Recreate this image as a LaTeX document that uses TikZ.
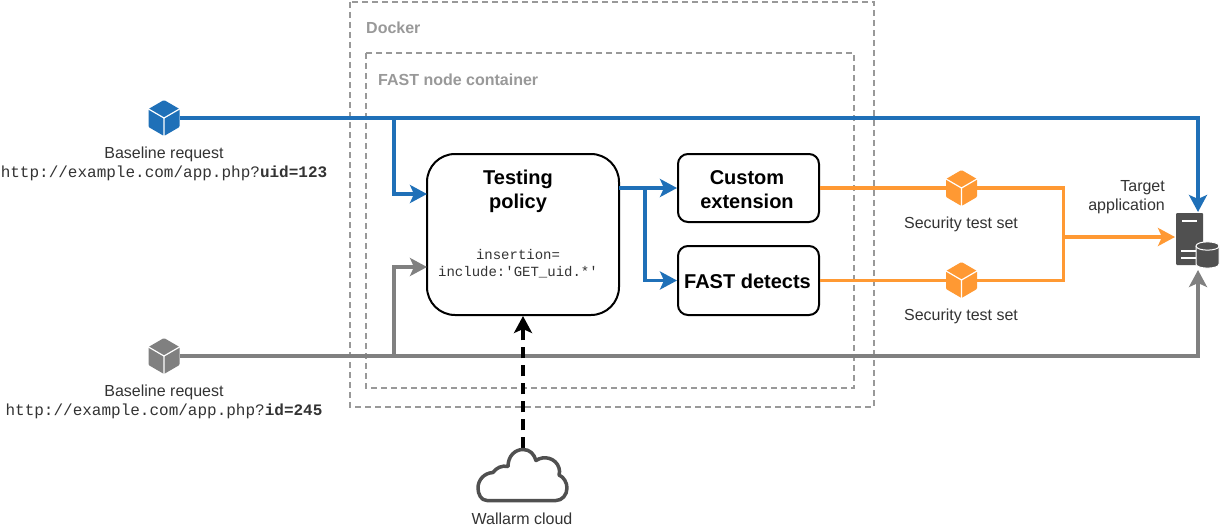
\documentclass[tikz,border=0pt]{standalone}
\usepackage{fontspec}
\setmainfont{Liberation Sans}
\setmonofont{Liberation Mono}
\usepackage{xcolor}
\usetikzlibrary{arrows.meta}

\definecolor{reqblue}{HTML}{1F70B8}
\definecolor{reqgray}{HTML}{808080}
\definecolor{setorange}{HTML}{FF9933}
\definecolor{icondark}{HTML}{505050}
\definecolor{framegray}{HTML}{999999}
\definecolor{labeltext}{HTML}{333333}

\tikzset{
    flowline/.style={line width=3.8pt,-{Stealth[length=17pt,width=18pt,inset=4pt]}},
    plainline/.style={line width=3.8pt},
    framebox/.style={draw=framegray,line width=2pt,dash pattern=on 6pt off 4pt},
    framelabel/.style={text=framegray,font=\fontsize{16}{19}\selectfont\bfseries,anchor=west,inner sep=0pt},
    roundbox/.style={draw,line width=2pt,minimum width=141pt,minimum height=68pt,rounded corners=10pt,inner sep=0pt},
    boxtitle/.style={font=\fontsize{20}{24}\selectfont\bfseries,align=center,inner sep=0pt},
    iconlabel/.style={text=labeltext,font=\fontsize{16}{19}\selectfont,align=center,inner sep=0pt},
    monolabel/.style={text=labeltext,font=\fontsize{16}{19}\ttfamily\selectfont,inner sep=0pt},
    iconbox/.style={minimum width=31pt,minimum height=36pt,inner sep=0pt},
    cubeicon/.pic={
        \fill[pic actions,rounded corners=1pt] (0,-18) -- (15.5,-9) -- (15.5,9) -- (0,18) -- (-15.5,9) -- (-15.5,-9) -- cycle;
        \draw[white,line width=1.2pt] (-15.5,-9) -- (0,0) -- (15.5,-9) (0,0) -- (0,18);
    }
}

\begin{document}
\begin{tikzpicture}[x=1pt,y=-1pt]
    \useasboundingbox[fill=white] (0,0) rectangle (1220,527);

    % frames
    \draw[framebox] (350,2) rectangle (874,407);
    \draw[framebox] (366,53) rectangle (854,388);
    \node[framelabel] (dockerlabel) at (366,28) {Docker};
    \node[framelabel] (containerlabel) at (378,80) {FAST node container};

    % boxes
    \node[roundbox,minimum width=192pt,minimum height=161pt,rounded corners=28pt] (policy) at (523,234.5) {};
    \node[boxtitle] (policytitle) at (518,191) {Testing\\policy};
    \node[font=\fontsize{14}{17}\ttfamily\selectfont,align=center,inner sep=0pt,text=labeltext] (policyrule) at (518,264) {insertion=\\include:'GET\_uid.*'};
    \node[roundbox] (custom) at (748.5,188) {};
    \node[boxtitle] (customtitle) at (747,190) {Custom\\extension};
    \node[roundbox,minimum height=69pt] (detects) at (748.5,280.5) {};
    \node[boxtitle] (detectstitle) at (747.5,281.5) {FAST detects};

    % icon places
    \foreach \cubename/\cubepos in {bluecube/{164,118},graycube/{164,356},topset/{961.5,188},lowset/{961.5,280}}
        \node[iconbox] (\cubename) at (\cubepos) {};
    \node[minimum width=43pt,minimum height=55pt,inner sep=0pt] (server) at (1197.5,240.5) {};
    \node[minimum width=91pt,minimum height=53pt,inner sep=0pt] (cloud) at (523,475) {};

    % connector corners
    \coordinate (bluedrop) at (394,118);
    \coordinate (grayrise) at (394,356);
    \coordinate (blueinto) at (427,194);
    \coordinate (grayinto) at (427,267);
    \coordinate (policyout) at (619,188);
    \coordinate (policysplit) at (645,188);
    \coordinate (orangejoin) at (1063.5,237);
    \coordinate (serverwest) at (1175,237);
    \coordinate (servertop) at (1198,212);
    \coordinate (serverbottom) at (1198,270);

    % blue requests
    \draw[flowline,reqblue] (bluecube.east) -| (servertop);
    \draw[flowline,reqblue] (bluedrop) |- (blueinto);
    \draw[flowline,reqblue] (policyout) -- (custom.west);
    \draw[flowline,reqblue] (policysplit) |- (detects.west);

    % gray requests
    \draw[flowline,reqgray] (graycube.east) -| (serverbottom);
    \draw[flowline,reqgray] (grayrise) |- (grayinto);

    % security test sets
    \draw[plainline,setorange] (custom.east) -| (orangejoin);
    \draw[plainline,setorange] (detects.east) -| (orangejoin);
    \draw[flowline,setorange] (orangejoin) -- (serverwest);

    % cloud link
    \draw[line width=3.8pt,dash pattern=on 11pt off 7pt,-{Stealth[length=17pt,width=18pt,inset=4pt]}] (cloud.north) -- (policy.south);

    % cubes
    \foreach \cubename/\cubecol in {bluecube/reqblue,graycube/reqgray,topset/setorange,lowset/setorange}
        \pic[fill=\cubecol] at (\cubename) {cubeicon};

    % server
    \fill[icondark,rounded corners=1pt] (1176,213) rectangle (1203,265);
    \draw[white,line width=2pt] (1182,221) -- (1197,221);
    \draw[white,line width=2pt] (1181,251) -- (1196,251) (1181,258) -- (1196,258);
    \draw[white,fill=icondark,line width=1pt] (1196,246) .. controls (1196,240.5) and (1219,240.5) .. (1219,246) -- (1219,264) .. controls (1219,269.5) and (1196,269.5) .. (1196,264) -- cycle;
    \draw[white,line width=1pt] (1196,246) .. controls (1196,251.5) and (1219,251.5) .. (1219,246);

    % cloud
    \draw[icondark,line width=3.5pt,line join=round] (487,500.5) .. controls (481,500.5) and (478,494) .. (478,488)
        .. controls (478,480) and (484,473) .. (493,472.5)
        .. controls (496,468) and (502,465) .. (508,466.5)
        .. controls (508,456) and (515,449.5) .. (523,449.5)
        .. controls (530,449.5) and (534,454) .. (536,460.5)
        .. controls (544,455) and (556,458) .. (559,468)
        .. controls (560,470) and (559.5,473) .. (559,475)
        .. controls (564,477) and (567,483) .. (567,488)
        .. controls (567,495) and (562,500.5) .. (556,500.5) -- cycle;

    % labels
    \node[iconlabel] (bluename) at (164,154) {Baseline request};
    \node[monolabel] (blueurl) at (164,173) {http://example.com/app.php?\textbf{uid=123}};
    \node[iconlabel] (grayname) at (164,392) {Baseline request};
    \node[monolabel] (grayurl) at (164,411) {http://example.com/app.php?\textbf{id=245}};
    \node[iconlabel] (topsetname) at (961,224) {Security test set};
    \node[iconlabel] (lowsetname) at (961,316) {Security test set};
    \node[iconlabel,align=right,anchor=east] (servername) at (1165,197) {Target\\application};
    \node[iconlabel] (cloudname) at (522,519) {Wallarm cloud};
\end{tikzpicture}
\end{document}
